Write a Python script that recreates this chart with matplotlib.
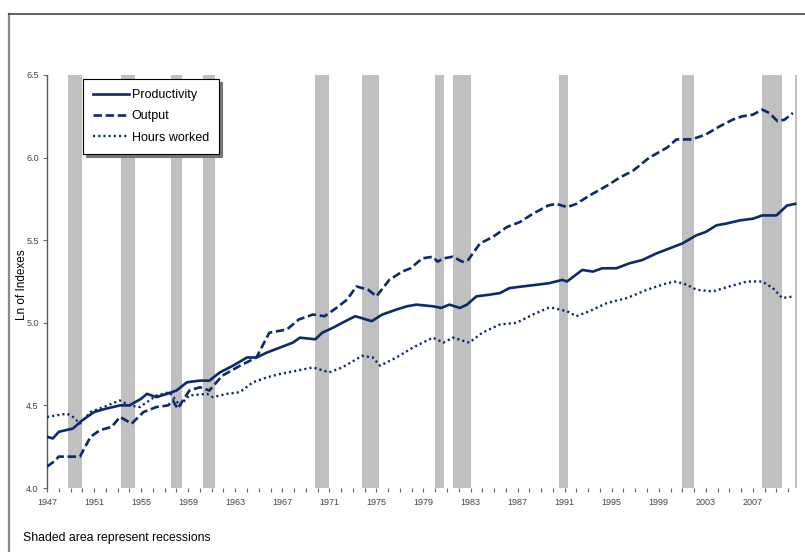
import matplotlib
matplotlib.use("Agg")
import matplotlib.pyplot as plt
from matplotlib.lines import Line2D

plt.rcParams['font.family'] = ['Liberation Sans', 'DejaVu Sans']

# ---- data (x = decimal year, 1947Q1 = 1947.0) ----
prod_years = [1947.0, 1947.5, 1948.0, 1949.2, 1950.0, 1951.0, 1952.0, 1953.2, 1954.0, 1955.0,
              1955.5, 1956.3, 1957.2, 1958.0, 1958.9, 1960.0, 1960.8, 1961.7, 1962.8, 1964.0,
              1964.8, 1965.7, 1966.8, 1967.9, 1968.5, 1969.8, 1970.4, 1971.3, 1972.1, 1973.2,
              1974.6, 1975.5, 1976.7, 1977.6, 1978.4, 1979.8, 1980.5, 1981.2, 1982.1, 1982.7,
              1983.5, 1984.6, 1985.5, 1986.3, 1987.4, 1988.6, 1989.7, 1990.8, 1991.2, 1992.5,
              1993.4, 1994.2, 1995.4, 1996.5, 1997.6, 1998.8, 1999.9, 2001.0, 2002.2, 2003.0,
              2003.9, 2004.7, 2005.9, 2007.0, 2007.8, 2009.0, 2009.9, 2010.6]
productivity = [4.31, 4.30, 4.34, 4.36, 4.41, 4.46, 4.48, 4.50, 4.50, 4.54,
                4.57, 4.55, 4.57, 4.59, 4.64, 4.65, 4.65, 4.70, 4.74, 4.79,
                4.79, 4.82, 4.85, 4.88, 4.91, 4.90, 4.94, 4.97, 5.00, 5.04,
                5.01, 5.05, 5.08, 5.10, 5.11, 5.10, 5.09, 5.11, 5.09, 5.11,
                5.16, 5.17, 5.18, 5.21, 5.22, 5.23, 5.24, 5.26, 5.25, 5.32,
                5.31, 5.33, 5.33, 5.36, 5.38, 5.42, 5.45, 5.48, 5.53, 5.55,
                5.59, 5.60, 5.62, 5.63, 5.65, 5.65, 5.71, 5.72]

out_years = [1947.0, 1947.6, 1948.0, 1949.2, 1949.8, 1950.7, 1951.5, 1952.5, 1953.2, 1954.2,
             1955.2, 1956.3, 1957.3, 1957.7, 1958.1, 1959.1, 1960.0, 1960.8, 1961.9, 1963.4,
             1964.8, 1965.9, 1967.4, 1968.4, 1969.6, 1970.6, 1971.6, 1972.5, 1973.3, 1974.3,
             1975.0, 1976.1, 1977.2, 1977.9, 1978.9, 1979.8, 1980.2, 1980.7, 1981.5, 1982.3,
             1982.8, 1983.8, 1984.9, 1986.1, 1987.2, 1988.3, 1989.6, 1990.3, 1991.2, 1992.0,
             1993.1, 1994.6, 1995.7, 1996.8, 1998.2, 1999.7, 2000.5, 2001.8, 2003.0, 2004.2,
             2005.3, 2006.1, 2007.0, 2007.8, 2008.4, 2009.1, 2009.7, 2010.4]
output = [4.13, 4.16, 4.19, 4.19, 4.19, 4.31, 4.35, 4.37, 4.43, 4.39,
          4.46, 4.49, 4.50, 4.53, 4.48, 4.59, 4.61, 4.59, 4.68, 4.74,
          4.79, 4.94, 4.96, 5.02, 5.05, 5.04, 5.09, 5.14, 5.22, 5.20,
          5.16, 5.26, 5.31, 5.33, 5.39, 5.40, 5.37, 5.39, 5.40, 5.37,
          5.38, 5.48, 5.52, 5.58, 5.61, 5.66, 5.71, 5.72, 5.70, 5.72,
          5.77, 5.83, 5.88, 5.92, 6.00, 6.06, 6.11, 6.11, 6.14, 6.19,
          6.23, 6.25, 6.26, 6.29, 6.27, 6.22, 6.23, 6.27]

hours_years = [1947.0, 1948.7, 1949.2, 1949.8, 1950.7, 1951.8, 1953.2, 1954.0, 1954.9, 1956.3,
               1957.4, 1958.3, 1959.1, 1960.6, 1961.1, 1962.3, 1963.4, 1964.5, 1965.7, 1966.8,
               1968.2, 1969.6, 1971.0, 1972.1, 1973.8, 1974.7, 1975.3, 1976.7, 1978.1, 1979.8,
               1980.7, 1981.5, 1982.9, 1984.0, 1985.5, 1986.9, 1988.3, 1989.6, 1990.0, 1991.2,
               1992.0, 1993.1, 1994.6, 1996.3, 1998.0, 1999.7, 2000.5, 2001.4, 2002.2, 2003.6,
               2005.0, 2006.5, 2007.8, 2008.7, 2009.5, 2010.5]
hours = [4.43, 4.45, 4.43, 4.39, 4.46, 4.49, 4.53, 4.50, 4.49, 4.56,
         4.58, 4.50, 4.56, 4.57, 4.55, 4.57, 4.58, 4.64, 4.67, 4.69,
         4.71, 4.73, 4.70, 4.73, 4.80, 4.79, 4.74, 4.79, 4.85, 4.91,
         4.88, 4.91, 4.88, 4.94, 4.99, 5.00, 5.05, 5.09, 5.09, 5.07,
         5.04, 5.07, 5.12, 5.15, 5.20, 5.24, 5.25, 5.23, 5.20, 5.19,
         5.22, 5.25, 5.25, 5.21, 5.15, 5.16]

rec_start = [1948.75, 1953.25, 1957.5, 1960.25, 1969.75, 1973.75, 1980.0, 1981.5, 1990.5, 2001.0, 2007.75, 2010.6]
rec_end   = [1950.0, 1954.5, 1958.5, 1961.25, 1971.0, 1975.25, 1980.75, 1983.0, 1991.25, 2002.0, 2009.5, 2010.75]

series_labels = ["Productivity", "Output", "Hours worked"]
y_ticks = [4.0, 4.5, 5.0, 5.5, 6.0, 6.5]
x_label_years = list(range(1947, 2008, 4))
x_tick_years = list(range(1947, 2011))

# ---- figure ----
W, H = 805, 552
fig = plt.figure(figsize=(W / 100, H / 100), dpi=100)
ax = fig.add_axes([47 / W, 1 - 488 / H, 750 / W, 413 / H])

navy = '#0c2a6a'
for s, e in zip(rec_start, rec_end):
    ax.axvspan(s, e, color='#c0c0c0', lw=0, zorder=1)

l1, = ax.plot(prod_years, productivity, color=navy, lw=1.9, ls='-', zorder=3)
l2, = ax.plot(out_years, output, color=navy, lw=1.9, ls=(0, (3.2, 1.4)), zorder=3)
l3, = ax.plot(hours_years, hours, color=navy, lw=1.7, ls=(0, (0.9, 1.3)), zorder=3)

ax.set_xlim(1947, 2010.75)
ax.set_ylim(4.0, 6.5)

ax.set_yticks(y_ticks)
ax.set_yticklabels([f"{v:.1f}" for v in y_ticks])
ax.set_xticks(x_tick_years)
ax.set_xticklabels([str(y) if y in x_label_years else "" for y in x_tick_years])

for sp in ['top', 'right', 'bottom']:
    ax.spines[sp].set_visible(False)
ax.spines['left'].set_color('#555555')
ax.spines['left'].set_linewidth(1.0)
ax.tick_params(axis='both', direction='out', length=3, width=0.8, color='#666666',
               labelsize=6.5, labelcolor='#444444')
ax.tick_params(axis='x', pad=4)
ax.tick_params(axis='y', pad=3)

leg = ax.legend([l1, l2, l3], series_labels, loc='upper left',
                bbox_to_anchor=(83 / W, 1 - 79 / H), bbox_transform=fig.transFigure,
                borderaxespad=0, fancybox=False, framealpha=1, edgecolor='black',
                shadow={'color': '#777777', 'alpha': 1}, fontsize=9,
                handlelength=2.9, handletextpad=0.2, labelspacing=0.75, borderpad=0.8)
leg.get_frame().set_linewidth(0.8)
leg.set_zorder(5)

fig.text(22 / W, 1 - 285 / H, "Ln of Indexes", rotation=90, ha='center', va='center',
         fontsize=8.5, color='black')
fig.text(23 / W, 1 - 538 / H, "Shaded area represent recessions", ha='left', va='center',
         fontsize=8.8, color='black')

# outer frame
fig.add_artist(Line2D([9 / W, 9 / W], [0, 1 - 14 / H], transform=fig.transFigure,
                      color='#888888', lw=1.6))
fig.add_artist(Line2D([9 / W, 1], [1 - 14 / H, 1 - 14 / H], transform=fig.transFigure,
                      color='#444444', lw=1.2))

fig.savefig("out.png", dpi=100)
